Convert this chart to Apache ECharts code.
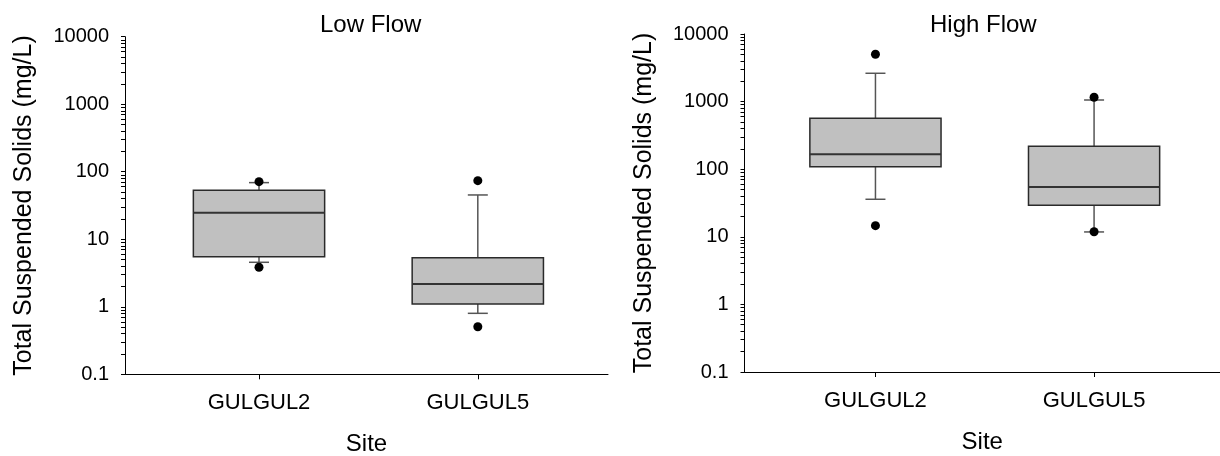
<!DOCTYPE html>
<html>
<head>
<meta charset="utf-8">
<script src="https://cdn.jsdelivr.net/npm/echarts@6/dist/echarts.min.js"></script>
<style>
  html, body { margin: 0; padding: 0; background: #fff; }
  #chart { width: 1220px; height: 456px; }
</style>
</head>
<body>
<div id="chart"></div>
<script>
// ---- Data ----
const sites = ['GULGUL2', 'GULGUL5'];
// [lower whisker, Q1, median, Q3, upper whisker]
const lowFlowStats = [
  [4.56, 5.52, 24.8, 53.2, 69],
  [0.80, 1.10, 2.18, 5.34, 45.3]
];
const highFlowStats = [
  [35.9, 109, 166, 566, 2624],
  [11.8, 29.2, 54.6, 218, 1056]
];
// [site index, value]
const lowFlowOutliers = [[0, 71.3], [0, 3.85], [1, 73.8], [1, 0.507]];
const highFlowOutliers = [[0, 5012], [0, 14.6], [1, 1158], [1, 11.9]];
const yTickValues = [0.1, 1, 10, 100, 1000, 10000];
const yTickLabels = ['0.1', '1', '10', '100', '1000', '10000'];

// ---- Helpers ----
const FONT = 'Liberation Sans, Arial, sans-serif';
const BOX_W = 0.6;   // box width in category units
const CAP_PX = 10;   // half width of whisker caps in px

// major decades plus the 2..9 log sub-ticks in between
const allYTicks = yTickValues.slice();
[0.1, 1, 10, 100, 1000].forEach(function (d) {
  for (let k = 2; k <= 9; k++) allYTicks.push(+(k * d).toPrecision(3));
});

function boxData(stats) {
  return stats.map(function (s, i) { return [i + 1].concat(s); });
}
function outlierData(list) {
  return list.map(function (o) { return [o[0] + 1, o[1]]; });
}

function renderBox(params, api) {
  const x = api.value(0);
  const lo = api.value(1), q1 = api.value(2), med = api.value(3), q3 = api.value(4), hi = api.value(5);
  const pLo = api.coord([x, lo]);
  const pQ1 = api.coord([x, q1]);
  const pMed = api.coord([x, med]);
  const pQ3 = api.coord([x, q3]);
  const pHi = api.coord([x, hi]);
  const left = api.coord([x - BOX_W / 2, q1])[0];
  const right = api.coord([x + BOX_W / 2, q1])[0];
  const cx = pMed[0];
  const wStyle = { stroke: '#555', lineWidth: 1.5 };
  return {
    type: 'group',
    children: [
      { type: 'line', shape: { x1: cx, y1: pQ3[1], x2: cx, y2: pHi[1] }, style: wStyle },
      { type: 'line', shape: { x1: cx - CAP_PX, y1: pHi[1], x2: cx + CAP_PX, y2: pHi[1] }, style: wStyle },
      { type: 'line', shape: { x1: cx, y1: pQ1[1], x2: cx, y2: pLo[1] }, style: wStyle },
      { type: 'line', shape: { x1: cx - CAP_PX, y1: pLo[1], x2: cx + CAP_PX, y2: pLo[1] }, style: wStyle },
      { type: 'rect', shape: { x: left, y: pQ3[1], width: right - left, height: pQ1[1] - pQ3[1] },
        style: { fill: '#c0c0c0', stroke: '#2a2a2a', lineWidth: 1.5 } },
      { type: 'line', shape: { x1: left, y1: pMed[1], x2: right, y2: pMed[1] },
        style: { stroke: '#333', lineWidth: 2 } }
    ]
  };
}

function xAxisDef(gridIndex, min, max) {
  return {
    type: 'value', gridIndex: gridIndex, min: min, max: max,
    name: 'Site', nameLocation: 'middle', nameGap: 58,
    nameTextStyle: { fontSize: 24, color: '#000', fontFamily: FONT },
    axisLine: { show: true, lineStyle: { color: '#000', width: 1 } },
    axisTick: { show: true, length: 5, customValues: [1, 2], lineStyle: { color: '#000' } },
    axisLabel: { customValues: [1, 2], margin: 18, fontSize: 22, color: '#000', fontFamily: FONT,
      formatter: function (v) { return sites[Math.round(v) - 1]; } },
    splitLine: { show: false }
  };
}
function yAxisDef(gridIndex) {
  return {
    type: 'log', logBase: 10, gridIndex: gridIndex, min: 0.1, max: 10000,
    name: 'Total Suspended Solids (mg/L)', nameLocation: 'middle', nameRotate: 90, nameGap: 88,
    nameTextStyle: { fontSize: 25, color: '#000', fontFamily: FONT },
    axisLine: { show: true, lineStyle: { color: '#000', width: 1 } },
    axisTick: { show: true, length: 4, customValues: allYTicks, lineStyle: { color: '#000' } },
    minorTick: { show: false },
    axisLabel: { customValues: yTickValues, margin: 16, fontSize: 20, color: '#000', fontFamily: FONT,
      formatter: function (v) {
        const i = yTickValues.findIndex(function (t) { return Math.abs(Math.log10(t) - Math.log10(v)) < 1e-6; });
        return i >= 0 ? yTickLabels[i] : '';
      } },
    splitLine: { show: false }
  };
}

const chart = echarts.init(document.getElementById('chart'), null, { renderer: 'canvas' });
chart.setOption({
  animation: false,
  backgroundColor: '#fff',
  textStyle: { fontFamily: FONT },
  title: [
    { text: 'Low Flow', left: 315, top: 8, textStyle: { fontSize: 24, fontWeight: 'normal', color: '#000', fontFamily: FONT } },
    { text: 'High Flow', left: 925, top: 8, textStyle: { fontSize: 24, fontWeight: 'normal', color: '#000', fontFamily: FONT } }
  ],
  grid: [
    { left: 125, right: 612, top: 36.7, bottom: 81.7, containLabel: false, outerBoundsMode: 'none' },
    { left: 744.5, right: 0, top: 34, bottom: 84, containLabel: false, outerBoundsMode: 'none' }
  ],
  xAxis: [
    xAxisDef(0, 0.3876, 2.595),
    xAxisDef(1, 0.401, 2.576)
  ],
  yAxis: [
    yAxisDef(0),
    yAxisDef(1)
  ],
  series: [
    { type: 'custom', name: 'Low Flow', xAxisIndex: 0, yAxisIndex: 0,
      renderItem: renderBox, encode: { x: 0, y: [1, 2, 3, 4, 5] }, data: boxData(lowFlowStats) },
    { type: 'scatter', xAxisIndex: 0, yAxisIndex: 0, symbolSize: 9,
      itemStyle: { color: '#000', opacity: 1 }, data: outlierData(lowFlowOutliers) },
    { type: 'custom', name: 'High Flow', xAxisIndex: 1, yAxisIndex: 1,
      renderItem: renderBox, encode: { x: 0, y: [1, 2, 3, 4, 5] }, data: boxData(highFlowStats) },
    { type: 'scatter', xAxisIndex: 1, yAxisIndex: 1, symbolSize: 9,
      itemStyle: { color: '#000', opacity: 1 }, data: outlierData(highFlowOutliers) }
  ]
});
</script>
</body>
</html>
